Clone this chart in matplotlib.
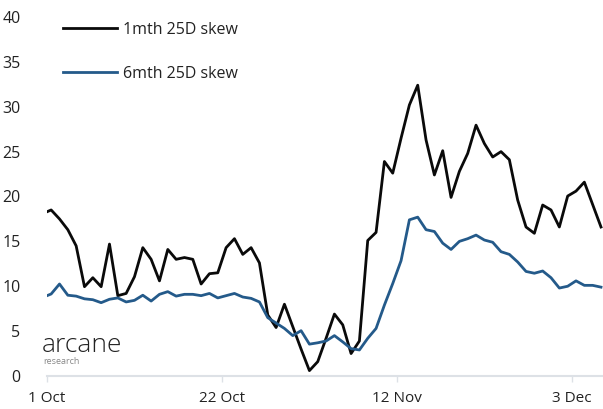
import matplotlib
matplotlib.use("Agg")
import matplotlib.pyplot as plt
import pandas as pd

# ---- data ----
start_date = "2022-10-01 00:00"
daily_start = "2022-10-01 12:00"
n_daily = 67

skew_1m_first = 18.3
skew_1m = [18.5, 17.5, 16.3, 14.5, 9.95, 10.95, 9.95, 14.7, 8.95, 9.2,
           11.06, 14.3, 13.0, 10.6, 14.1, 13.0, 13.2, 13.0, 10.25, 11.4,
           11.5, 14.3, 15.3, 13.55, 14.3, 12.6, 6.8, 5.4, 8.0, 5.5,
           3.0, 0.6, 1.6, 4.2, 6.9, 5.7, 2.5, 3.9, 15.1, 16.0,
           23.9, 22.6, 26.5, 30.2, 32.4, 26.3, 22.4, 25.1, 19.9, 22.8,
           24.8, 27.95, 25.9, 24.4, 25.0, 24.1, 19.6, 16.6, 15.9, 19.05,
           18.5, 16.6, 20.05, 20.6, 21.6, 19.1, 16.6]

skew_6m_first = 8.95
skew_6m = [9.14, 10.25, 9.0, 8.9, 8.6, 8.5, 8.17, 8.55, 8.7, 8.25,
           8.43, 9.0, 8.35, 9.1, 9.4, 8.9, 9.1, 9.1, 8.95, 9.2,
           8.7, 8.95, 9.2, 8.8, 8.65, 8.25, 6.5, 5.9, 5.3, 4.5,
           5.05, 3.55, 3.7, 3.9, 4.5, 3.8, 3.05, 2.9, 4.2, 5.3,
           7.9, 10.3, 12.85, 17.4, 17.7, 16.3, 16.1, 14.8, 14.1, 15.0,
           15.3, 15.7, 15.15, 14.9, 13.85, 13.55, 12.7, 11.65, 11.45, 11.7,
           10.95, 9.8, 10.0, 10.6, 10.1, 10.1, 9.9]

series_labels = ["1mth 25D skew", "6mth 25D skew"]
tick_dates = ["2022-10-01", "2022-10-22", "2022-11-12", "2022-12-03"]
tick_labels = ["1 Oct", "22 Oct", "12 Nov", "3 Dec"]
y_ticks = [0, 5, 10, 15, 20, 25, 30, 35, 40]

dates = [pd.Timestamp(start_date)] + list(pd.date_range(daily_start, periods=n_daily, freq="D"))
y1 = [skew_1m_first] + skew_1m
y2 = [skew_6m_first] + skew_6m

# ---- plot ----
plt.rcParams['font.family'] = ['Open Sans', 'DejaVu Sans']
fig = plt.figure(figsize=(6.03, 4.09), dpi=100)
ax = fig.add_axes([47/603, 33/409, 1 - 47/603, (376-17)/409])

ax.plot(dates, y1, color="#0a0a0a", lw=2.0, label=series_labels[0])
ax.plot(dates, y2, color="#245a8a", lw=2.0, label=series_labels[1])

ax.set_ylim(0, 40)
ax.set_yticks(y_ticks)
ax.set_xlim(pd.Timestamp("2022-10-01"), pd.Timestamp("2022-10-01") + pd.Timedelta(days=66.74))
ax.set_xticks([pd.Timestamp(d) for d in tick_dates])
ax.set_xticklabels(tick_labels)

for s in ["left", "right", "top"]:
    ax.spines[s].set_visible(False)
ax.spines["bottom"].set_color("#dde1e6")
ax.spines["bottom"].set_linewidth(1.5)
ax.tick_params(axis="y", length=0, pad=19, labelsize=11.5, labelcolor="#222222")
ax.tick_params(axis="x", length=4, width=1, color="#dde1e6", pad=7, labelsize=11, labelcolor="#222222")

leg = ax.legend(loc="upper left", bbox_to_anchor=(0.017, 1.005), frameon=False,
                borderaxespad=0.0, borderpad=0.4,
                handlelength=3.4, handletextpad=0.35, labelspacing=1.75, fontsize=11.5)
for t in leg.get_texts():
    t.set_color("#222222")

fig.text(42/603, 1 - 345/409, "arcane", fontsize=19, color="#222222", va="center", ha="left",
         fontweight="light")
fig.text(43/603, 1 - 361/409, "research", fontsize=6.5, color="#888888", va="center", ha="left")

fig.savefig("out.png", dpi=100)
